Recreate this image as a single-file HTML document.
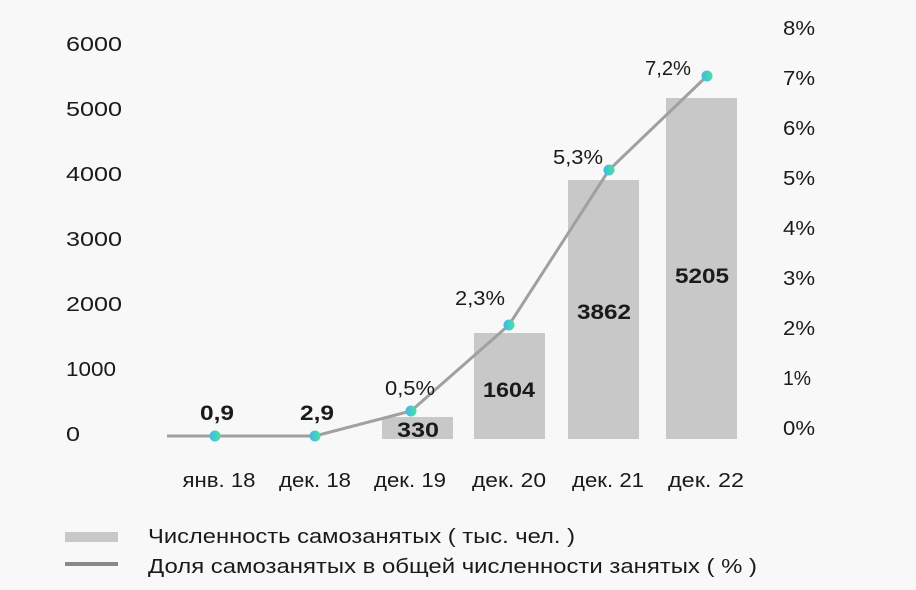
<!DOCTYPE html>
<html><head><meta charset="utf-8"><style>
html,body{margin:0;padding:0;background:#f8f8f8}
svg{display:block}
text{font-family:"Liberation Sans",sans-serif;fill:#1a1a1a}
</style></head><body>
<svg width="916" height="590" viewBox="0 0 916 590">
<defs><linearGradient id="g" x1="0" y1="0" x2="1" y2="0"><stop offset="0" stop-color="#3fb8e8"/><stop offset="1" stop-color="#4de0a0"/></linearGradient></defs>
<rect width="916" height="590" fill="#f8f8f8"/>
<g font-size="20">
<text x="66" y="51" textLength="56" lengthAdjust="spacingAndGlyphs">6000</text><text x="66" y="116" textLength="56" lengthAdjust="spacingAndGlyphs">5000</text><text x="66" y="181" textLength="56" lengthAdjust="spacingAndGlyphs">4000</text><text x="66" y="246" textLength="56" lengthAdjust="spacingAndGlyphs">3000</text><text x="66" y="311" textLength="56" lengthAdjust="spacingAndGlyphs">2000</text><text x="66" y="376" textLength="50" lengthAdjust="spacingAndGlyphs">1000</text><text x="66" y="441" textLength="14" lengthAdjust="spacingAndGlyphs">0</text>
<text x="783" y="35" textLength="32" lengthAdjust="spacingAndGlyphs">8%</text><text x="783" y="85" textLength="32" lengthAdjust="spacingAndGlyphs">7%</text><text x="783" y="135" textLength="32" lengthAdjust="spacingAndGlyphs">6%</text><text x="783" y="185" textLength="32" lengthAdjust="spacingAndGlyphs">5%</text><text x="783" y="235" textLength="32" lengthAdjust="spacingAndGlyphs">4%</text><text x="783" y="285" textLength="32" lengthAdjust="spacingAndGlyphs">3%</text><text x="783" y="335" textLength="32" lengthAdjust="spacingAndGlyphs">2%</text><text x="783" y="385" textLength="28" lengthAdjust="spacingAndGlyphs">1%</text><text x="783" y="435" textLength="32" lengthAdjust="spacingAndGlyphs">0%</text>
</g>
<g fill="#c8c8c8">
<rect x="382" y="417" width="71" height="22"/>
<rect x="474" y="333" width="71" height="106"/>
<rect x="568" y="180" width="71" height="259"/>
<rect x="666" y="98" width="71" height="341"/>
</g>
<polyline points="167,436 215,436 315,436 411,411 509,325 609,170 707,76" fill="none" stroke="#a0a0a0" stroke-width="3"/>
<g fill="url(#g)">
<circle cx="215" cy="436" r="5.5"/><circle cx="315" cy="436" r="5.5"/><circle cx="411" cy="411" r="5.5"/><circle cx="509" cy="325" r="5.5"/><circle cx="609" cy="170" r="5.5"/><circle cx="707" cy="76" r="5.5"/>
</g>
<g font-size="21" font-weight="bold" text-anchor="middle">
<text x="217" y="420" textLength="34" lengthAdjust="spacingAndGlyphs">0,9</text><text x="317" y="420" textLength="34" lengthAdjust="spacingAndGlyphs">2,9</text><text x="418" y="437" textLength="42" lengthAdjust="spacingAndGlyphs">330</text><text x="509" y="397" textLength="52" lengthAdjust="spacingAndGlyphs">1604</text><text x="604" y="319" textLength="54" lengthAdjust="spacingAndGlyphs">3862</text><text x="702" y="283" textLength="54" lengthAdjust="spacingAndGlyphs">5205</text>
</g>
<g font-size="20" text-anchor="middle">
<text x="410" y="395" textLength="50" lengthAdjust="spacingAndGlyphs">0,5%</text><text x="480" y="305" textLength="50" lengthAdjust="spacingAndGlyphs">2,3%</text><text x="578" y="164" textLength="50" lengthAdjust="spacingAndGlyphs">5,3%</text><text x="668" y="75" textLength="46" lengthAdjust="spacingAndGlyphs">7,2%</text>
<text x="219" y="487" textLength="73" lengthAdjust="spacingAndGlyphs">янв. 18</text><text x="315" y="487" textLength="72" lengthAdjust="spacingAndGlyphs">дек. 18</text><text x="410" y="487" textLength="72" lengthAdjust="spacingAndGlyphs">дек. 19</text><text x="509" y="487" textLength="74" lengthAdjust="spacingAndGlyphs">дек. 20</text><text x="608" y="487" textLength="72" lengthAdjust="spacingAndGlyphs">дек. 21</text><text x="706" y="487" textLength="76" lengthAdjust="spacingAndGlyphs">дек. 22</text>
</g>
<rect x="65" y="532" width="53" height="10" fill="#c8c8c8"/>
<rect x="65" y="562" width="53" height="4" fill="#8a8a8a"/>
<g font-size="20"><text x="148" y="543" textLength="427" lengthAdjust="spacingAndGlyphs">Численность самозанятых ( тыс. чел. )</text><text x="148" y="573" textLength="609" lengthAdjust="spacingAndGlyphs">Доля самозанятых в общей численности занятых ( % )</text></g>
</svg>
</body></html>
